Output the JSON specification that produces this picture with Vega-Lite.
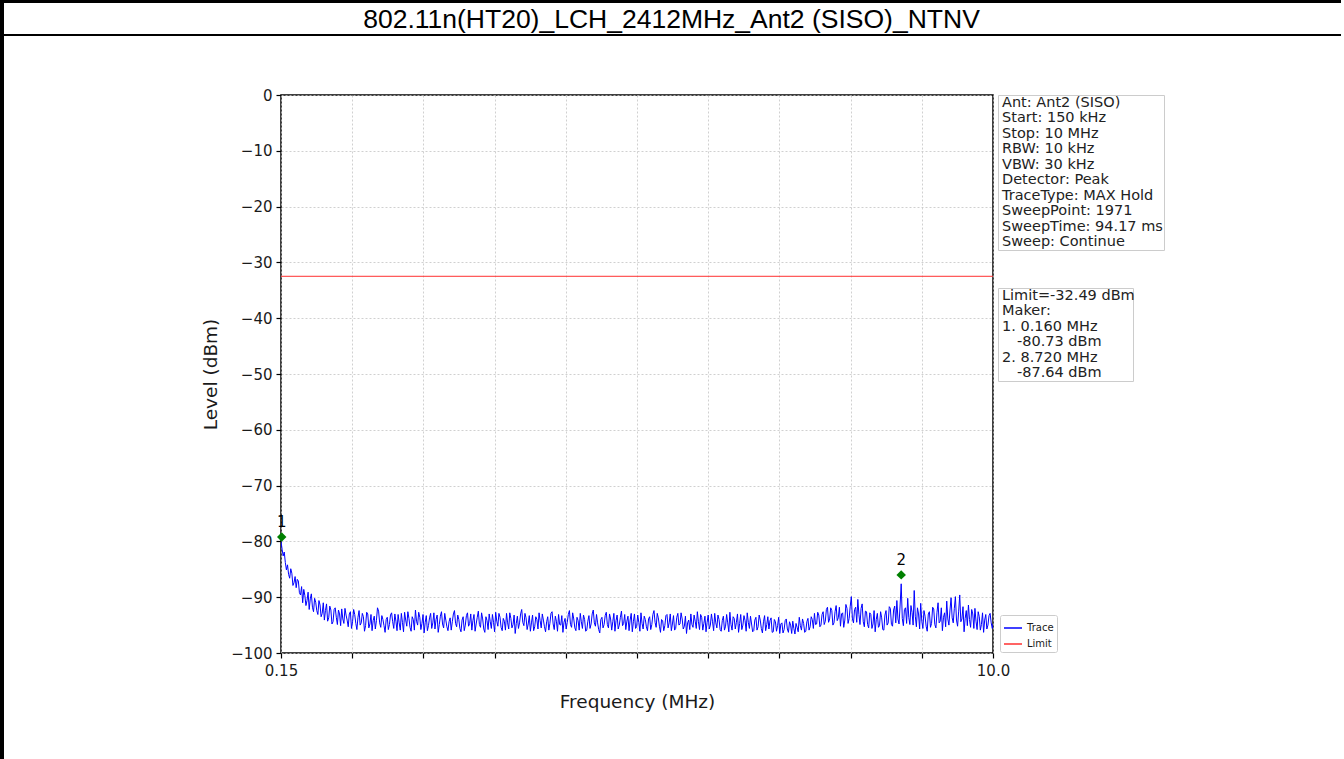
{
  "$schema": "https://vega.github.io/schema/vega-lite/v6.json",
  "padding": 0,
  "background": "white",
  "bounds": "flush",
  "spacing": 0,
  "config": {
    "font": "DejaVu Sans",
    "view": {"stroke": null}
  },
  "datasets": {
    "trace": [
      {"f":0.15,"v":-80.0},{"f":0.165,"v":-81.4},{"f":0.18,"v":-82.6},{"f":0.195,"v":-81.9},{"f":0.21,"v":-83.8},{"f":0.225,"v":-85.1},{"f":0.24,"v":-84.2},{"f":0.255,"v":-85.9},{"f":0.27,"v":-86.6},{"f":0.285,"v":-84.9},
      {"f":0.30,"v":-85.7},{"f":0.315,"v":-87.9},{"f":0.33,"v":-87.4},{"f":0.345,"v":-86.3},{"f":0.36,"v":-88.3},{"f":0.375,"v":-86.8},{"f":0.39,"v":-87.1},{"f":0.405,"v":-89.2},{"f":0.42,"v":-89.6},{"f":0.435,"v":-88.1},
      {"f":0.45,"v":-91.0},{"f":0.465,"v":-88.6},{"f":0.48,"v":-89.7},{"f":0.495,"v":-91.5},{"f":0.51,"v":-90.6},{"f":0.525,"v":-89.1},{"f":0.54,"v":-92.2},{"f":0.555,"v":-90.3},{"f":0.57,"v":-89.4},{"f":0.585,"v":-91.8},
      {"f":0.60,"v":-92.6},{"f":0.615,"v":-90.2},{"f":0.63,"v":-90.9},{"f":0.645,"v":-92.4},{"f":0.66,"v":-93.1},{"f":0.675,"v":-90.6},{"f":0.69,"v":-91.4},{"f":0.705,"v":-93.5},{"f":0.72,"v":-92.9},{"f":0.735,"v":-91.0},
      {"f":0.75,"v":-94.1},{"f":0.765,"v":-92.4},{"f":0.78,"v":-91.2},{"f":0.795,"v":-94.3},{"f":0.81,"v":-93.7},{"f":0.825,"v":-91.6},{"f":0.84,"v":-92.3},{"f":0.855,"v":-94.8},{"f":0.87,"v":-94.4},{"f":0.885,"v":-92.2},
      {"f":0.90,"v":-91.9},{"f":0.915,"v":-93.6},{"f":0.93,"v":-94.9},{"f":0.945,"v":-92.3},{"f":0.96,"v":-93.0},{"f":0.975,"v":-95.1},{"f":0.99,"v":-92.1},{"f":1.005,"v":-93.9},{"f":1.02,"v":-94.7},{"f":1.035,"v":-92.0},
      {"f":1.05,"v":-93.2},{"f":1.065,"v":-94.1},{"f":1.08,"v":-95.3},{"f":1.095,"v":-93.0},{"f":1.11,"v":-92.6},{"f":1.125,"v":-95.6},{"f":1.14,"v":-94.4},{"f":1.155,"v":-92.2},{"f":1.17,"v":-93.1},{"f":1.185,"v":-94.7},
      {"f":1.20,"v":-95.8},{"f":1.215,"v":-93.6},{"f":1.23,"v":-92.4},{"f":1.245,"v":-95.0},{"f":1.26,"v":-94.6},{"f":1.275,"v":-92.9},{"f":1.29,"v":-93.5},{"f":1.305,"v":-96.1},{"f":1.32,"v":-95.1},{"f":1.335,"v":-92.7},
      {"f":1.35,"v":-93.0},{"f":1.365,"v":-95.5},{"f":1.38,"v":-94.8},{"f":1.395,"v":-93.1},{"f":1.41,"v":-96.0},{"f":1.425,"v":-94.2},{"f":1.44,"v":-93.4},{"f":1.455,"v":-95.7},{"f":1.47,"v":-94.2},{"f":1.485,"v":-91.9},
      {"f":1.50,"v":-92.5},{"f":1.515,"v":-94.6},{"f":1.53,"v":-95.4},{"f":1.545,"v":-93.3},{"f":1.56,"v":-94.0},{"f":1.575,"v":-95.1},{"f":1.59,"v":-96.3},{"f":1.605,"v":-94.0},{"f":1.62,"v":-93.6},{"f":1.635,"v":-95.8},
      {"f":1.65,"v":-94.9},{"f":1.665,"v":-93.2},{"f":1.68,"v":-92.8},{"f":1.695,"v":-94.4},{"f":1.71,"v":-95.6},{"f":1.725,"v":-93.0},{"f":1.74,"v":-94.3},{"f":1.755,"v":-96.0},{"f":1.77,"v":-93.1},{"f":1.785,"v":-94.6},
      {"f":1.80,"v":-95.9},{"f":1.815,"v":-92.9},{"f":1.83,"v":-94.5},{"f":1.845,"v":-96.2},{"f":1.86,"v":-92.7},{"f":1.875,"v":-94.1},{"f":1.89,"v":-95.2},{"f":1.905,"v":-92.6},{"f":1.92,"v":-93.8},{"f":1.935,"v":-95.4},
      {"f":1.95,"v":-96.1},{"f":1.965,"v":-93.5},{"f":1.98,"v":-94.0},{"f":1.995,"v":-95.9},{"f":2.01,"v":-92.3},{"f":2.025,"v":-94.3},{"f":2.04,"v":-95.0},{"f":2.055,"v":-92.7},{"f":2.07,"v":-93.6},{"f":2.085,"v":-95.8},
      {"f":2.10,"v":-94.7},{"f":2.115,"v":-93.1},{"f":2.13,"v":-96.4},{"f":2.145,"v":-94.5},{"f":2.16,"v":-93.3},{"f":2.175,"v":-96.0},{"f":2.19,"v":-95.1},{"f":2.205,"v":-93.7},{"f":2.22,"v":-92.9},{"f":2.235,"v":-95.6},
      {"f":2.25,"v":-94.6},{"f":2.265,"v":-92.8},{"f":2.28,"v":-95.7},{"f":2.295,"v":-94.0},{"f":2.31,"v":-93.2},{"f":2.325,"v":-96.3},{"f":2.34,"v":-94.9},{"f":2.355,"v":-93.4},{"f":2.37,"v":-92.6},{"f":2.385,"v":-94.8},
      {"f":2.40,"v":-95.5},{"f":2.415,"v":-92.9},{"f":2.43,"v":-94.1},{"f":2.445,"v":-95.3},{"f":2.46,"v":-96.0},{"f":2.475,"v":-94.4},{"f":2.49,"v":-93.7},{"f":2.505,"v":-95.9},{"f":2.52,"v":-94.4},{"f":2.535,"v":-93.0},
      {"f":2.55,"v":-92.4},{"f":2.565,"v":-94.7},{"f":2.58,"v":-95.3},{"f":2.595,"v":-93.2},{"f":2.61,"v":-94.0},{"f":2.625,"v":-95.6},{"f":2.64,"v":-96.2},{"f":2.655,"v":-94.1},{"f":2.67,"v":-93.5},{"f":2.685,"v":-96.0},
      {"f":2.70,"v":-95.0},{"f":2.715,"v":-93.3},{"f":2.73,"v":-92.8},{"f":2.745,"v":-95.2},{"f":2.76,"v":-94.7},{"f":2.775,"v":-93.0},{"f":2.79,"v":-95.9},{"f":2.805,"v":-94.2},{"f":2.82,"v":-93.1},{"f":2.835,"v":-96.1},
      {"f":2.85,"v":-94.8},{"f":2.865,"v":-93.6},{"f":2.88,"v":-92.5},{"f":2.895,"v":-94.9},{"f":2.91,"v":-95.4},{"f":2.925,"v":-92.8},{"f":2.94,"v":-93.9},{"f":2.955,"v":-95.7},{"f":2.97,"v":-96.3},{"f":2.985,"v":-93.5},
      {"f":3.00,"v":-94.2},{"f":3.015,"v":-95.8},{"f":3.03,"v":-93.0},{"f":3.045,"v":-94.4},{"f":3.06,"v":-95.6},{"f":3.075,"v":-93.1},{"f":3.09,"v":-94.5},{"f":3.105,"v":-96.2},{"f":3.12,"v":-92.7},{"f":3.135,"v":-94.3},
      {"f":3.15,"v":-95.2},{"f":3.165,"v":-92.9},{"f":3.18,"v":-93.6},{"f":3.195,"v":-95.4},{"f":3.21,"v":-96.0},{"f":3.225,"v":-93.8},{"f":3.24,"v":-94.3},{"f":3.255,"v":-95.9},{"f":3.27,"v":-92.9},{"f":3.285,"v":-94.6},
      {"f":3.30,"v":-95.7},{"f":3.315,"v":-92.8},{"f":3.33,"v":-93.8},{"f":3.345,"v":-95.5},{"f":3.36,"v":-94.9},{"f":3.375,"v":-93.2},{"f":3.39,"v":-96.5},{"f":3.405,"v":-94.7},{"f":3.42,"v":-93.4},{"f":3.435,"v":-95.6},
      {"f":3.45,"v":-94.6},{"f":3.465,"v":-93.0},{"f":3.48,"v":-92.2},{"f":3.495,"v":-94.5},{"f":3.51,"v":-95.1},{"f":3.525,"v":-92.9},{"f":3.54,"v":-93.7},{"f":3.555,"v":-95.8},{"f":3.57,"v":-94.8},{"f":3.585,"v":-93.3},
      {"f":3.60,"v":-96.1},{"f":3.615,"v":-94.6},{"f":3.63,"v":-93.2},{"f":3.645,"v":-96.0},{"f":3.66,"v":-95.3},{"f":3.675,"v":-93.5},{"f":3.69,"v":-94.0},{"f":3.705,"v":-95.7},{"f":3.72,"v":-92.8},{"f":3.735,"v":-94.2},
      {"f":3.75,"v":-95.5},{"f":3.765,"v":-93.0},{"f":3.78,"v":-94.1},{"f":3.795,"v":-95.3},{"f":3.81,"v":-96.2},{"f":3.825,"v":-94.4},{"f":3.84,"v":-93.5},{"f":3.855,"v":-95.9},{"f":3.87,"v":-94.7},{"f":3.885,"v":-92.9},
      {"f":3.90,"v":-92.6},{"f":3.915,"v":-94.8},{"f":3.93,"v":-95.8},{"f":3.945,"v":-93.4},{"f":3.96,"v":-94.3},{"f":3.975,"v":-96.1},{"f":3.99,"v":-93.1},{"f":4.005,"v":-94.9},{"f":4.02,"v":-95.0},{"f":4.035,"v":-93.3},
      {"f":4.05,"v":-96.3},{"f":4.065,"v":-94.5},{"f":4.08,"v":-93.8},{"f":4.095,"v":-95.7},{"f":4.11,"v":-94.5},{"f":4.125,"v":-93.1},{"f":4.14,"v":-92.4},{"f":4.155,"v":-94.9},{"f":4.17,"v":-95.4},{"f":4.185,"v":-92.8},
      {"f":4.20,"v":-93.9},{"f":4.215,"v":-95.5},{"f":4.23,"v":-96.0},{"f":4.245,"v":-93.6},{"f":4.26,"v":-94.2},{"f":4.275,"v":-95.9},{"f":4.29,"v":-92.9},{"f":4.305,"v":-94.4},{"f":4.32,"v":-95.6},{"f":4.335,"v":-93.2},
      {"f":4.35,"v":-94.0},{"f":4.365,"v":-96.1},{"f":4.38,"v":-95.9},{"f":4.395,"v":-94.3},{"f":4.41,"v":-93.3},{"f":4.425,"v":-95.6},{"f":4.44,"v":-94.8},{"f":4.455,"v":-93.0},{"f":4.47,"v":-92.3},{"f":4.485,"v":-94.6},
      {"f":4.50,"v":-95.2},{"f":4.515,"v":-93.1},{"f":4.53,"v":-94.6},{"f":4.545,"v":-95.8},{"f":4.56,"v":-96.4},{"f":4.575,"v":-94.0},{"f":4.59,"v":-93.6},{"f":4.605,"v":-95.5},{"f":4.62,"v":-94.9},{"f":4.635,"v":-93.3},
      {"f":4.65,"v":-92.7},{"f":4.665,"v":-94.9},{"f":4.68,"v":-95.5},{"f":4.695,"v":-93.0},{"f":4.71,"v":-93.9},{"f":4.725,"v":-95.9},{"f":4.74,"v":-94.4},{"f":4.755,"v":-92.9},{"f":4.77,"v":-96.1},{"f":4.785,"v":-94.2},
      {"f":4.80,"v":-93.2},{"f":4.815,"v":-95.7},{"f":4.83,"v":-95.0},{"f":4.845,"v":-93.6},{"f":4.86,"v":-92.5},{"f":4.875,"v":-95.1},{"f":4.89,"v":-94.7},{"f":4.905,"v":-93.1},{"f":4.92,"v":-95.8},{"f":4.935,"v":-94.3},
      {"f":4.95,"v":-93.4},{"f":4.965,"v":-96.0},{"f":4.98,"v":-94.1},{"f":4.995,"v":-92.9},{"f":5.01,"v":-96.2},{"f":5.025,"v":-94.4},{"f":5.04,"v":-93.0},{"f":5.055,"v":-95.6},{"f":5.07,"v":-95.3},{"f":5.085,"v":-93.2},
      {"f":5.10,"v":-94.5},{"f":5.115,"v":-96.1},{"f":5.13,"v":-92.8},{"f":5.145,"v":-94.7},{"f":5.16,"v":-95.7},{"f":5.175,"v":-93.4},{"f":5.19,"v":-94.0},{"f":5.205,"v":-95.3},{"f":5.22,"v":-96.0},{"f":5.235,"v":-93.9},
      {"f":5.25,"v":-93.5},{"f":5.265,"v":-95.8},{"f":5.28,"v":-94.9},{"f":5.295,"v":-93.1},{"f":5.31,"v":-92.4},{"f":5.325,"v":-94.5},{"f":5.34,"v":-95.4},{"f":5.355,"v":-92.9},{"f":5.37,"v":-93.7},{"f":5.385,"v":-95.2},
      {"f":5.40,"v":-96.3},{"f":5.415,"v":-94.0},{"f":5.43,"v":-94.2},{"f":5.445,"v":-96.0},{"f":5.46,"v":-95.1},{"f":5.475,"v":-93.3},{"f":5.49,"v":-93.1},{"f":5.505,"v":-95.5},{"f":5.52,"v":-94.6},{"f":5.535,"v":-93.0},
      {"f":5.55,"v":-96.0},{"f":5.565,"v":-94.8},{"f":5.58,"v":-93.3},{"f":5.595,"v":-95.9},{"f":5.61,"v":-95.6},{"f":5.625,"v":-93.6},{"f":5.64,"v":-92.9},{"f":5.655,"v":-95.0},{"f":5.67,"v":-94.8},{"f":5.685,"v":-92.8},
      {"f":5.70,"v":-93.9},{"f":5.715,"v":-95.7},{"f":5.73,"v":-95.2},{"f":5.745,"v":-93.4},{"f":5.76,"v":-96.5},{"f":5.775,"v":-94.6},{"f":5.79,"v":-94.1},{"f":5.805,"v":-95.8},{"f":5.82,"v":-93.0},{"f":5.835,"v":-94.9},
      {"f":5.85,"v":-95.4},{"f":5.865,"v":-93.2},{"f":5.88,"v":-94.3},{"f":5.895,"v":-95.6},{"f":5.91,"v":-92.6},{"f":5.925,"v":-94.4},{"f":5.94,"v":-95.8},{"f":5.955,"v":-93.1},{"f":5.97,"v":-93.6},{"f":5.985,"v":-95.9},
      {"f":6.00,"v":-94.7},{"f":6.015,"v":-93.4},{"f":6.03,"v":-96.2},{"f":6.045,"v":-94.5},{"f":6.06,"v":-93.2},{"f":6.075,"v":-95.7},{"f":6.09,"v":-95.0},{"f":6.105,"v":-93.0},{"f":6.12,"v":-94.4},{"f":6.135,"v":-96.0},
      {"f":6.15,"v":-92.9},{"f":6.165,"v":-94.6},{"f":6.18,"v":-95.5},{"f":6.195,"v":-93.2},{"f":6.21,"v":-94.0},{"f":6.225,"v":-95.8},{"f":6.24,"v":-96.1},{"f":6.255,"v":-94.2},{"f":6.27,"v":-93.4},{"f":6.285,"v":-95.9},
      {"f":6.30,"v":-95.2},{"f":6.315,"v":-93.1},{"f":6.33,"v":-94.6},{"f":6.345,"v":-96.2},{"f":6.36,"v":-92.7},{"f":6.375,"v":-94.9},{"f":6.39,"v":-95.9},{"f":6.405,"v":-93.5},{"f":6.42,"v":-93.8},{"f":6.435,"v":-95.7},
      {"f":6.45,"v":-94.5},{"f":6.465,"v":-93.0},{"f":6.48,"v":-96.3},{"f":6.495,"v":-94.7},{"f":6.51,"v":-93.1},{"f":6.525,"v":-95.8},{"f":6.54,"v":-95.0},{"f":6.555,"v":-93.3},{"f":6.57,"v":-94.2},{"f":6.585,"v":-96.1},
      {"f":6.60,"v":-92.8},{"f":6.615,"v":-94.5},{"f":6.63,"v":-95.6},{"f":6.645,"v":-93.4},{"f":6.66,"v":-94.8},{"f":6.675,"v":-96.2},{"f":6.69,"v":-96.0},{"f":6.705,"v":-94.1},{"f":6.72,"v":-93.6},{"f":6.735,"v":-95.9},
      {"f":6.75,"v":-95.3},{"f":6.765,"v":-93.2},{"f":6.78,"v":-94.1},{"f":6.795,"v":-95.6},{"f":6.81,"v":-96.4},{"f":6.825,"v":-94.4},{"f":6.84,"v":-93.3},{"f":6.855,"v":-96.0},{"f":6.87,"v":-94.9},{"f":6.885,"v":-93.5},
      {"f":6.90,"v":-95.7},{"f":6.915,"v":-94.2},{"f":6.93,"v":-93.7},{"f":6.945,"v":-96.3},{"f":6.96,"v":-96.2},{"f":6.975,"v":-94.0},{"f":6.99,"v":-94.4},{"f":7.005,"v":-96.1},{"f":7.02,"v":-95.1},{"f":7.035,"v":-93.6},
      {"f":7.05,"v":-96.5},{"f":7.065,"v":-94.8},{"f":7.08,"v":-94.6},{"f":7.095,"v":-96.4},{"f":7.11,"v":-95.8},{"f":7.125,"v":-94.2},{"f":7.14,"v":-93.9},{"f":7.155,"v":-95.7},{"f":7.17,"v":-96.3},{"f":7.185,"v":-94.4},
      {"f":7.20,"v":-95.0},{"f":7.215,"v":-96.5},{"f":7.23,"v":-94.3},{"f":7.245,"v":-95.6},{"f":7.26,"v":-96.6},{"f":7.275,"v":-94.7},{"f":7.29,"v":-95.4},{"f":7.305,"v":-96.2},{"f":7.32,"v":-93.6},{"f":7.335,"v":-95.1},
      {"f":7.35,"v":-95.9},{"f":7.365,"v":-93.9},{"f":7.38,"v":-94.7},{"f":7.395,"v":-96.3},{"f":7.41,"v":-96.1},{"f":7.425,"v":-94.4},{"f":7.44,"v":-93.8},{"f":7.455,"v":-95.9},{"f":7.47,"v":-95.3},{"f":7.485,"v":-93.5},
      {"f":7.50,"v":-94.0},{"f":7.515,"v":-95.6},{"f":7.53,"v":-92.9},{"f":7.545,"v":-94.9},{"f":7.56,"v":-94.8},{"f":7.575,"v":-92.7},{"f":7.59,"v":-93.2},{"f":7.605,"v":-95.3},{"f":7.62,"v":-95.0},{"f":7.635,"v":-93.1},
      {"f":7.65,"v":-92.6},{"f":7.665,"v":-94.9},{"f":7.68,"v":-94.3},{"f":7.695,"v":-92.2},{"f":7.71,"v":-91.8},{"f":7.725,"v":-94.5},{"f":7.74,"v":-93.9},{"f":7.755,"v":-91.9},{"f":7.77,"v":-92.4},{"f":7.785,"v":-95.0},
      {"f":7.80,"v":-94.6},{"f":7.815,"v":-92.6},{"f":7.83,"v":-91.5},{"f":7.845,"v":-94.2},{"f":7.86,"v":-93.7},{"f":7.875,"v":-91.8},{"f":7.89,"v":-95.2},{"f":7.905,"v":-93.0},{"f":7.92,"v":-92.8},{"f":7.935,"v":-95.4},
      {"f":7.95,"v":-94.1},{"f":7.965,"v":-91.3},{"f":7.98,"v":-92.0},{"f":7.995,"v":-94.7},{"f":8.01,"v":-93.8},{"f":8.025,"v":-91.6},{"f":8.04,"v":-89.9},{"f":8.055,"v":-93.9},{"f":8.07,"v":-94.6},{"f":8.085,"v":-92.2},
      {"f":8.10,"v":-91.8},{"f":8.115,"v":-94.5},{"f":8.13,"v":-90.4},{"f":8.145,"v":-93.1},{"f":8.16,"v":-94.9},{"f":8.175,"v":-92.0},{"f":8.19,"v":-91.2},{"f":8.205,"v":-94.4},{"f":8.22,"v":-95.3},{"f":8.235,"v":-92.5},
      {"f":8.25,"v":-92.6},{"f":8.265,"v":-94.9},{"f":8.28,"v":-95.5},{"f":8.295,"v":-92.8},{"f":8.31,"v":-93.1},{"f":8.325,"v":-95.6},{"f":8.34,"v":-94.8},{"f":8.355,"v":-92.4},{"f":8.37,"v":-96.2},{"f":8.385,"v":-94.0},
      {"f":8.40,"v":-92.9},{"f":8.415,"v":-95.4},{"f":8.43,"v":-95.1},{"f":8.445,"v":-92.6},{"f":8.46,"v":-93.7},{"f":8.475,"v":-95.8},{"f":8.49,"v":-95.9},{"f":8.505,"v":-93.2},{"f":8.52,"v":-92.4},{"f":8.535,"v":-95.0},
      {"f":8.55,"v":-94.6},{"f":8.565,"v":-91.7},{"f":8.58,"v":-92.0},{"f":8.595,"v":-94.9},{"f":8.61,"v":-95.2},{"f":8.625,"v":-92.3},{"f":8.64,"v":-91.6},{"f":8.655,"v":-94.6},{"f":8.67,"v":-90.6},{"f":8.685,"v":-93.9},
      {"f":8.70,"v":-94.8},{"f":8.715,"v":-91.4},{"f":8.73,"v":-87.6},{"f":8.745,"v":-93.8},{"f":8.76,"v":-95.1},{"f":8.775,"v":-92.2},{"f":8.79,"v":-91.9},{"f":8.805,"v":-94.7},{"f":8.82,"v":-90.2},{"f":8.835,"v":-93.6},
      {"f":8.85,"v":-94.9},{"f":8.865,"v":-91.5},{"f":8.88,"v":-92.7},{"f":8.895,"v":-95.0},{"f":8.91,"v":-88.8},{"f":8.925,"v":-93.4},{"f":8.94,"v":-95.3},{"f":8.955,"v":-91.9},{"f":8.97,"v":-93.0},{"f":8.985,"v":-95.7},
      {"f":9.00,"v":-91.1},{"f":9.015,"v":-94.3},{"f":9.03,"v":-95.6},{"f":9.045,"v":-92.4},{"f":9.06,"v":-93.4},{"f":9.075,"v":-95.2},{"f":9.09,"v":-96.1},{"f":9.105,"v":-93.0},{"f":9.12,"v":-92.6},{"f":9.135,"v":-95.4},
      {"f":9.15,"v":-94.7},{"f":9.165,"v":-91.8},{"f":9.18,"v":-92.1},{"f":9.195,"v":-94.9},{"f":9.21,"v":-95.5},{"f":9.225,"v":-92.7},{"f":9.24,"v":-91.0},{"f":9.255,"v":-94.6},{"f":9.27,"v":-94.3},{"f":9.285,"v":-91.9},
      {"f":9.30,"v":-96.0},{"f":9.315,"v":-93.6},{"f":9.33,"v":-92.8},{"f":9.345,"v":-95.3},{"f":9.36,"v":-90.7},{"f":9.375,"v":-93.9},{"f":9.39,"v":-95.0},{"f":9.405,"v":-92.3},{"f":9.42,"v":-90.1},{"f":9.435,"v":-93.7},
      {"f":9.45,"v":-94.6},{"f":9.465,"v":-92.0},{"f":9.48,"v":-89.9},{"f":9.495,"v":-94.1},{"f":9.51,"v":-95.2},{"f":9.525,"v":-92.5},{"f":9.54,"v":-89.6},{"f":9.555,"v":-94.4},{"f":9.57,"v":-93.9},{"f":9.585,"v":-91.7},
      {"f":9.60,"v":-96.2},{"f":9.615,"v":-93.8},{"f":9.63,"v":-92.4},{"f":9.645,"v":-95.1},{"f":9.66,"v":-91.4},{"f":9.675,"v":-94.0},{"f":9.69,"v":-95.4},{"f":9.705,"v":-92.2},{"f":9.72,"v":-93.0},{"f":9.735,"v":-95.6},
      {"f":9.75,"v":-92.0},{"f":9.765,"v":-94.3},{"f":9.78,"v":-95.8},{"f":9.795,"v":-92.6},{"f":9.81,"v":-93.5},{"f":9.825,"v":-95.9},{"f":9.84,"v":-94.9},{"f":9.855,"v":-92.8},{"f":9.87,"v":-96.3},{"f":9.885,"v":-94.1},
      {"f":9.90,"v":-93.1},{"f":9.915,"v":-95.7},{"f":9.93,"v":-95.0},{"f":9.945,"v":-93.3},{"f":9.96,"v":-92.9},{"f":9.975,"v":-94.6},{"f":9.99,"v":-95.6},{"f":10.0,"v":-94.8}
    ],
    "markers": [
      {"n": "1", "f": 0.16, "v": -79.2},
      {"n": "2", "f": 8.73, "v": -86.0}
    ],
    "limit": [{"lim": -32.49}],
    "info": [
      {"i": 0, "t": "Ant: Ant2 (SISO)"},
      {"i": 1, "t": "Start: 150 kHz"},
      {"i": 2, "t": "Stop: 10 MHz"},
      {"i": 3, "t": "RBW: 10 kHz"},
      {"i": 4, "t": "VBW: 30 kHz"},
      {"i": 5, "t": "Detector: Peak"},
      {"i": 6, "t": "TraceType: MAX Hold"},
      {"i": 7, "t": "SweepPoint: 1971"},
      {"i": 8, "t": "SweepTime: 94.17 ms"},
      {"i": 9, "t": "Sweep: Continue"}
    ],
    "marks": [
      {"i": 0, "ind": 0, "t": "Limit=-32.49 dBm"},
      {"i": 1, "ind": 0, "t": "Maker:"},
      {"i": 2, "ind": 0, "t": "1. 0.160 MHz"},
      {"i": 3, "ind": 1, "t": "-80.73 dBm"},
      {"i": 4, "ind": 0, "t": "2. 8.720 MHz"},
      {"i": 5, "ind": 1, "t": "-87.64 dBm"}
    ]
  },
  "hconcat": [
    {
      "width": 2, "height": 800,
      "data": {"values": []},
      "mark": {"type": "text"},
      "encoding": {"text": {"value": ""}},
      "view": {"fill": "#000000", "stroke": null}
    },
    {
      "vconcat": [
        {
          "width": 1339, "height": 3,
          "data": {"values": []},
          "mark": {"type": "text"},
          "encoding": {"text": {"value": ""}},
          "view": {"fill": "#000000", "stroke": null}
        },
        {
          "width": 1339, "height": 31,
          "data": {"values": [{"t": "802.11n(HT20)_LCH_2412MHz_Ant2 (SISO)_NTNV"}]},
          "mark": {"type": "text", "font": "Liberation Sans", "fontSize": 26.5, "color": "#000000", "align": "center", "baseline": "middle", "dy": 1},
          "encoding": {"text": {"field": "t"}},
          "view": {"stroke": null}
        },
        {
          "width": 1339, "height": 2,
          "data": {"values": []},
          "mark": {"type": "text"},
          "encoding": {"text": {"value": ""}},
          "view": {"fill": "#000000", "stroke": null}
        },
        {
          "width": 1, "height": 59,
          "data": {"values": []},
          "mark": {"type": "text"},
          "encoding": {"text": {"value": ""}},
          "view": {"stroke": null}
        },
        {
          "hconcat": [
            {
              "width": 274, "height": 10,
              "data": {"values": []},
              "mark": {"type": "text"},
              "encoding": {"text": {"value": ""}},
              "view": {"stroke": null}
            },
            {
              "width": 712, "height": 558,
              "view": {"stroke": "#000000", "strokeWidth": 1.5},
              "layer": [
                {
                  "data": {"name": "trace"},
                  "mark": {"type": "line", "strokeWidth": 1, "clip": true},
                  "encoding": {
                    "x": {
                      "field": "f", "type": "quantitative",
                      "scale": {"domain": [0.15, 10], "nice": false, "zero": false},
                      "axis": {
                        "title": "Frequency (MHz)",
                        "values": [0.15, 1.135, 2.12, 3.105, 4.09, 5.075, 6.06, 7.045, 8.03, 9.015, 10],
                        "labelExpr": "datum.value < 0.2 ? '0.15' : (datum.value > 9.9 ? '10.0' : '')",
                        "grid": true, "gridDash": [2, 2], "gridColor": "#c4c4c4", "gridWidth": 0.8,
                        "domain": false, "ticks": true, "tickColor": "#000000", "tickSize": 5, "tickWidth": 1.2,
                        "labelFontSize": 15, "labelColor": "#1a1a1a", "labelPadding": 5, "labelFlush": false,
                        "titleFontSize": 18.5, "titleFontWeight": "normal", "titleColor": "#1a1a1a", "titlePadding": 14
                      }
                    },
                    "y": {
                      "field": "v", "type": "quantitative",
                      "scale": {"domain": [-100, 0], "nice": false, "zero": false},
                      "axis": {
                        "title": "Level (dBm)",
                        "values": [-100, -90, -80, -70, -60, -50, -40, -30, -20, -10, 0],
                        "grid": true, "gridDash": [2, 2], "gridColor": "#c4c4c4", "gridWidth": 0.8,
                        "domain": false, "ticks": true, "tickColor": "#000000", "tickSize": 5, "tickWidth": 1.2,
                        "labelFontSize": 15, "labelColor": "#1a1a1a", "labelPadding": 4,
                        "titleFontSize": 18.5, "titleFontWeight": "normal", "titleColor": "#1a1a1a", "titlePadding": 10
                      }
                    },
                    "color": {
                      "datum": "Trace", "type": "nominal",
                      "scale": {"domain": ["Trace", "Limit"], "range": ["#0000ff", "#ff3030"]},
                      "legend": {
                        "title": null, "orient": "none", "legendX": 1000, "legendY": 615,
                        "symbolType": "stroke", "symbolStrokeWidth": 1.5, "symbolSize": 324,
                        "labelFontSize": 10, "labelFont": "DejaVu Sans", "labelColor": "#1a1a1a",
                        "strokeColor": "#cccccc", "fillColor": "#ffffff", "padding": 3, "rowPadding": 1, "cornerRadius": 2
                      }
                    }
                  }
                },
                {
                  "data": {"name": "limit"},
                  "mark": {"type": "rule", "strokeWidth": 1},
                  "encoding": {
                    "y": {"field": "lim", "type": "quantitative"},
                    "color": {"datum": "Limit", "type": "nominal"}
                  }
                },
                {
                  "data": {"name": "markers"},
                  "mark": {"type": "point", "shape": "diamond", "filled": true, "color": "#008000", "size": 90, "opacity": 1},
                  "encoding": {
                    "x": {"field": "f", "type": "quantitative"},
                    "y": {"field": "v", "type": "quantitative"}
                  }
                },
                {
                  "data": {"name": "markers"},
                  "mark": {"type": "text", "dy": -15, "fontSize": 15, "color": "#000000", "font": "DejaVu Sans"},
                  "encoding": {
                    "x": {"field": "f", "type": "quantitative"},
                    "y": {"field": "v", "type": "quantitative"},
                    "text": {"field": "n"}
                  }
                }
              ]
            },
            {
              "vconcat": [
                {
                  "width": 166, "height": 155,
                  "data": {"name": "info"},
                  "mark": {"type": "text", "align": "left", "baseline": "middle", "dx": 4, "fontSize": 14.5, "font": "DejaVu Sans", "color": "#222222"},
                  "encoding": {
                    "y": {"field": "i", "type": "ordinal", "axis": null},
                    "x": {"datum": 0, "type": "quantitative", "scale": {"domain": [0, 1]}, "axis": null},
                    "text": {"field": "t"}
                  },
                  "view": {"stroke": "#cccccc", "strokeWidth": 1}
                },
                {
                  "width": 135, "height": 93,
                  "data": {"name": "marks"},
                  "mark": {"type": "text", "align": "left", "baseline": "middle", "dx": 4, "fontSize": 14.5, "font": "DejaVu Sans", "color": "#222222"},
                  "encoding": {
                    "y": {"field": "i", "type": "ordinal", "axis": null},
                    "x": {"field": "ind", "type": "quantitative", "scale": {"domain": [0, 9]}, "axis": null},
                    "text": {"field": "t"}
                  },
                  "view": {"stroke": "#cccccc", "strokeWidth": 1}
                }
              ],
              "spacing": 38,
              "bounds": "flush"
            }
          ],
          "spacing": 5,
          "bounds": "flush"
        }
      ],
      "spacing": 0,
      "bounds": "flush"
    },
    {
      "width": 2, "height": 800,
      "data": {"values": []},
      "mark": {"type": "text"},
      "encoding": {"text": {"value": ""}},
      "view": {"fill": "#000000", "stroke": null}
    }
  ]
}
